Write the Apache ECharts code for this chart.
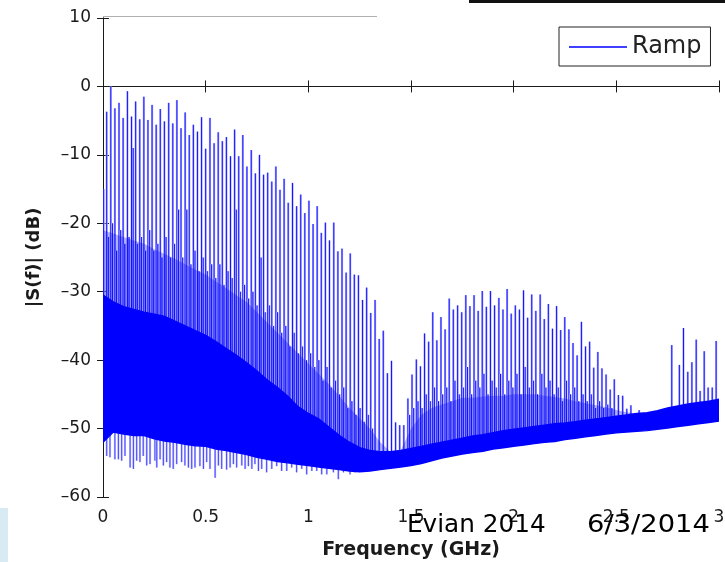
<!DOCTYPE html>
<html>
<head>
<meta charset="utf-8">
<script src="https://cdn.jsdelivr.net/npm/echarts/dist/echarts.min.js"></script>
<style>
  html, body { margin: 0; padding: 0; background: #fff; }
  #chart { width: 725px; height: 562px; }
</style>
</head>
<body>
<div id="chart"></div>
<script>
(function () {
  'use strict';

  // comb peaks of the ramp spectrum: [GHz, dB]
  var rampPeaks = [
    [0.003, -15.0],
    [0.018, -3.7], [0.038, 0.0], [0.058, -3.2], [0.078, -2.4], [0.098, -4.6],
    [0.119, -0.7], [0.139, -4.4], [0.159, -2.2], [0.179, -4.8], [0.199, -1.5],
    [0.219, -4.9], [0.239, -2.7], [0.259, -5.6], [0.279, -3.3], [0.299, -5.1],
    [0.320, -2.4], [0.340, -5.4], [0.360, -2.0], [0.380, -6.1], [0.400, -3.8],
    [0.420, -7.1], [0.440, -5.6], [0.460, -6.6], [0.480, -4.5], [0.500, -9.1],
    [0.521, -4.6], [0.541, -8.3], [0.561, -6.7], [0.581, -8.0], [0.601, -7.4],
    [0.621, -10.2], [0.641, -6.3], [0.661, -10.2], [0.681, -7.1], [0.701, -11.7],
    [0.722, -9.3], [0.742, -12.7], [0.762, -10.0], [0.782, -12.9], [0.802, -12.6],
    [0.822, -13.9], [0.842, -11.7], [0.862, -15.1], [0.882, -13.5], [0.902, -17.0],
    [0.923, -14.1], [0.943, -17.5], [0.963, -15.8], [0.983, -18.5], [1.003, -16.7],
    [1.023, -20.1], [1.043, -17.5], [1.063, -21.4], [1.083, -19.9], [1.103, -22.5],
    [1.124, -19.9], [1.144, -24.1], [1.164, -23.7], [1.184, -27.2], [1.204, -24.4],
    [1.224, -27.5], [1.244, -27.6], [1.264, -31.2], [1.284, -29.4], [1.304, -33.1],
    [1.325, -31.2], [1.345, -36.9], [1.365, -35.7], [1.385, -41.9], [1.405, -40.1],
    [1.425, -49.1], [1.445, -49.5], [1.465, -49.5], [1.485, -45.6], [1.505, -42.1],
    [1.526, -39.9], [1.546, -40.9], [1.566, -36.1], [1.586, -37.3], [1.606, -33.0],
    [1.626, -37.1], [1.646, -33.7], [1.666, -35.5], [1.686, -31.0], [1.706, -32.6],
    [1.727, -32.0], [1.747, -33.0], [1.767, -30.5], [1.787, -32.1], [1.807, -30.5],
    [1.827, -32.8], [1.847, -29.9], [1.867, -32.2], [1.887, -29.9], [1.907, -32.0],
    [1.928, -30.9], [1.948, -32.6], [1.968, -29.6], [1.988, -33.2], [2.008, -32.0],
    [2.028, -32.6], [2.048, -29.8], [2.068, -33.8], [2.088, -30.4], [2.108, -32.8],
    [2.129, -30.4], [2.149, -34.0], [2.169, -31.8], [2.189, -35.4], [2.209, -32.1],
    [2.229, -35.6], [2.249, -33.7], [2.269, -35.5], [2.289, -37.5], [2.309, -39.3],
    [2.330, -34.4], [2.350, -38.0], [2.370, -37.3], [2.390, -41.1], [2.410, -38.8],
    [2.430, -41.2], [2.450, -42.1], [2.470, -44.3], [2.490, -42.8], [2.510, -45.1],
    [2.531, -45.2], [2.551, -47.1], [2.571, -46.6], [2.611, -47.3],
    [2.770, -37.8], [2.807, -40.7], [2.827, -35.3], [2.848, -41.7], [2.868, -40.3],
    [2.889, -37.0], [2.908, -44.5], [2.928, -38.7], [2.947, -44.0], [2.967, -44.0],
    [2.986, -37.2]
  ];

  // weaker lines next to each comb line
  var rampSide = [
    [0.026, -22], [0.046, -20], [0.066, -24], [0.086, -21], [0.106, -23],
    [0.127, -22], [0.147, -9], [0.167, -23], [0.187, -22], [0.207, -24],
    [0.227, -21], [0.247, -24], [0.267, -23], [0.287, -25], [0.307, -22],
    [0.328, -25], [0.348, -23], [0.368, -18], [0.388, -25], [0.408, -18],
    [0.428, -26], [0.448, -24], [0.468, -27], [0.488, -25], [0.508, -27],
    [0.529, -26], [0.549, -28], [0.569, -26], [0.589, -29], [0.609, -27],
    [0.629, -28], [0.649, -18], [0.669, -30], [0.689, -29], [0.709, -31],
    [0.730, -30], [0.750, -32], [0.770, -25], [0.790, -33], [0.810, -32],
    [0.830, -35], [0.850, -33], [0.870, -36], [0.890, -35], [0.910, -38],
    [0.931, -36], [0.951, -39], [0.971, -38], [0.991, -40], [1.011, -39],
    [1.031, -41], [1.051, -40], [1.071, -43], [1.091, -41], [1.111, -44],
    [1.132, -43], [1.152, -45], [1.172, -44], [1.192, -47], [1.212, -46],
    [1.232, -48], [1.252, -47], [1.272, -49], [1.292, -48], [1.312, -50],
    [1.493, -48], [1.513, -47], [1.534, -46], [1.554, -47], [1.574, -45],
    [1.594, -46], [1.614, -44], [1.634, -46], [1.654, -45], [1.674, -44],
    [1.694, -46], [1.714, -43], [1.735, -45], [1.755, -44], [1.775, -41],
    [1.795, -45], [1.815, -43], [1.835, -44], [1.855, -42], [1.875, -45],
    [1.895, -43], [1.915, -44], [1.936, -42], [1.956, -45], [1.976, -43],
    [1.996, -44], [2.016, -42], [2.036, -45], [2.056, -41], [2.076, -44],
    [2.096, -43], [2.116, -45], [2.137, -42], [2.157, -44], [2.177, -43],
    [2.197, -45], [2.217, -44], [2.237, -46], [2.257, -43], [2.277, -45],
    [2.297, -44], [2.317, -46], [2.338, -45], [2.358, -46], [2.378, -45],
    [2.398, -47], [2.418, -46], [2.438, -47], [2.458, -46.5], [2.478, -47]
  ];

  // downward noise lines under the floor
  var rampDips = [
    [0.018, -54.0], [0.034, -54.2], [0.058, -54.5], [0.075, -54.5], [0.091, -54.7],
    [0.107, -54.0], [0.132, -55.7], [0.148, -55.9], [0.164, -54.7], [0.180, -54.9],
    [0.196, -54.0], [0.213, -55.4], [0.229, -55.2], [0.253, -54.7], [0.262, -55.7],
    [0.278, -54.5], [0.294, -55.4], [0.310, -54.9], [0.326, -55.7], [0.342, -55.9],
    [0.359, -55.2], [0.383, -54.9], [0.399, -55.4], [0.416, -55.7], [0.432, -55.9],
    [0.448, -55.7], [0.472, -55.5], [0.489, -55.9], [0.505, -54.9], [0.521, -55.9],
    [0.546, -57.2], [0.562, -55.4], [0.578, -55.9], [0.602, -56.0], [0.619, -55.7],
    [0.635, -55.2], [0.651, -55.7], [0.676, -55.4], [0.692, -55.9], [0.708, -55.5],
    [0.725, -55.9], [0.740, -55.2], [0.757, -56.2], [0.773, -55.9], [0.797, -56.4],
    [0.822, -55.9], [0.846, -55.5], [0.870, -56.2], [0.895, -56.2], [0.919, -55.7],
    [0.943, -56.4], [0.968, -55.9], [0.992, -56.7], [1.017, -56.2], [1.041, -56.2],
    [1.065, -56.7], [1.090, -56.7], [1.122, -56.4], [1.146, -57.4], [1.171, -56.4],
    [1.203, -56.7], [1.227, -56.4]
  ];

  // noise floor band (solid) and the lighter haze above it
  var bandFreq = [
    0.00, 0.05, 0.10, 0.15, 0.20, 0.25, 0.30, 0.35, 0.40, 0.45,
    0.50, 0.55, 0.60, 0.65, 0.70, 0.75, 0.80, 0.85, 0.90, 0.95,
    1.00, 1.05, 1.10, 1.15, 1.20, 1.25, 1.30, 1.35, 1.40, 1.45,
    1.50, 1.55, 1.60, 1.65, 1.70, 1.75, 1.80, 1.85, 1.90, 1.95,
    2.00, 2.05, 2.10, 2.15, 2.20, 2.25, 2.30, 2.35, 2.40, 2.45,
    2.50, 2.55, 2.60, 2.65, 2.70, 2.75, 2.80, 2.85, 2.90, 2.95,
    3.00
  ];
  var bandTop = [
    -30.5, -31.5, -32.2, -32.6, -33.0, -33.3, -33.6, -34.3, -35.0, -35.7,
    -36.4, -37.3, -38.3, -39.3, -40.4, -41.6, -42.9, -44.0, -45.3, -46.8,
    -47.8, -48.6, -49.8, -51.0, -52.0, -52.8, -53.2, -53.4, -53.4, -53.2,
    -52.9, -52.6, -52.3, -52.0, -51.7, -51.4, -51.1, -50.9, -50.6, -50.3,
    -50.1, -49.9, -49.7, -49.5, -49.3, -49.2, -49.0, -48.8, -48.6, -48.4,
    -48.2, -48.0, -47.8, -47.7, -47.4, -47.0, -46.7, -46.4, -46.2, -46.0,
    -45.7
  ];
  var bandBottom = [
    -52.0, -50.5, -50.8, -51.0, -51.0, -51.5, -51.8, -52.0, -52.3, -52.5,
    -52.6, -53.0, -53.2, -53.5, -53.8, -54.2, -54.5, -54.8, -55.0, -55.2,
    -55.4, -55.6, -55.8, -56.0, -56.2, -56.3, -56.2, -56.0, -55.8, -55.6,
    -55.4, -55.1, -54.7, -54.3, -54.0, -53.7, -53.5, -53.3, -53.0, -52.8,
    -52.6, -52.4, -52.2, -52.0, -51.9, -51.6, -51.4, -51.2, -51.0, -50.8,
    -50.6, -50.5, -50.4, -50.3, -50.1, -49.9, -49.7, -49.5, -49.3, -49.1,
    -48.9
  ];
  var hazeTop = [
    -21.0, -21.5, -22.0, -22.5, -23.0, -23.8, -24.5, -25.2, -26.0, -26.8,
    -27.5, -28.5, -29.5, -30.5, -31.5, -33.0, -34.5, -36.0, -37.5, -39.0,
    -40.5, -42.0, -43.5, -45.2, -47.0, -48.5, -50.0, -52.0, -53.4, -53.2,
    -50.0, -48.0, -47.0, -46.5, -46.0, -45.5, -45.5, -45.3, -45.2, -45.2,
    -45.0, -45.0, -45.0, -45.2, -45.4, -45.6, -46.0, -46.3, -46.6, -46.9,
    -47.3, -47.6, -47.8, -47.7, -47.4, -47.0, -46.7, -46.4, -46.2, -46.0,
    -45.7
  ];

  var BLUE = '#0000ff';
  var HALO = '#b4b4ff';
  var HAZE = 'rgba(0, 0, 255, 0.3)';
  var FONT = 'DejaVu Sans';

  // nearest band sample, used to hang the spikes on the floor
  function nearestBand(f) {
    var best = 0;
    for (var i = 1; i < bandFreq.length; i++) {
      if (Math.abs(bandFreq[i] - f) < Math.abs(bandFreq[best] - f)) best = i;
    }
    return best;
  }

  function spikeItem(down, opacity) {
    return function (params, api) {
      var f = api.value(0);
      var k = nearestBand(f);
      var base = down ? bandBottom[k] + 1 : bandTop[k] - 1;
      var a = api.coord([f, api.value(1)]);
      var b = api.coord([f, base]);
      var shape = { x1: a[0], y1: a[1], x2: b[0], y2: b[1] };
      return {
        type: 'group',
        children: [
          { type: 'line', shape: shape, style: { stroke: HALO, lineWidth: 2.2, opacity: opacity } },
          { type: 'line', shape: shape, style: { stroke: BLUE, lineWidth: 0.9, opacity: opacity } }
        ]
      };
    };
  }

  // floor band and haze, each as one polygon (upper edge forward, lower edge back)
  function bandItem(params, api) {
    if (params.dataIndexInside !== 0) return null;
    var n = params.dataInsideLength;
    function outline(upDim, lowDim) {
      var pts = [];
      for (var i = 0; i < n; i++) pts.push(api.coord([api.value(0, i), api.value(upDim, i)]));
      for (var j = n - 1; j >= 0; j--) pts.push(api.coord([api.value(0, j), api.value(lowDim, j)]));
      return pts;
    }
    return {
      type: 'group',
      children: [
        { type: 'polygon', shape: { points: outline(3, 2) }, style: { fill: HAZE } },
        { type: 'polygon', shape: { points: outline(2, 1) }, style: { fill: BLUE, stroke: BLUE, lineWidth: 1.5 } }
      ]
    };
  }

  function minus(v) {
    return String(v).replace('-', '\u2013');
  }

  var axisText = { fontFamily: FONT, fontSize: 17, color: '#1a1a1a' };
  var lineDark = { lineStyle: { color: '#1a1a1a', width: 1 } };
  var tickIn = { show: true, inside: true, length: 6, lineStyle: { color: '#1a1a1a' } };

  var myChart = echarts.init(document.getElementById('chart'));

  var option = {
    animation: false,
    backgroundColor: '#fff',
    grid: { left: 103, right: 6, top: 18, bottom: 65, containLabel: false, outerBoundsMode: 'none' },
    legend: {
      data: ['Ramp'],
      left: 559,
      top: 27,
      padding: [8, 9, 7, 10],
      icon: 'rect',
      itemWidth: 58,
      itemHeight: 1.5,
      backgroundColor: '#fff',
      borderColor: '#222',
      borderWidth: 1,
      textStyle: { fontFamily: FONT, fontSize: 24, color: '#222' }
    },
    xAxis: [{
      type: 'value',
      min: 0, max: 3, interval: 0.5,
      name: 'Frequency (GHz)',
      nameLocation: 'middle',
      nameGap: 44,
      nameTextStyle: { fontFamily: FONT, fontSize: 19, fontWeight: 'bold', color: '#1a1a1a' },
      axisLine: lineDark,
      axisTick: tickIn,
      axisLabel: Object.assign({ margin: 12, showMaxLabel: true }, axisText),
      splitLine: { show: false }
    }, {
      type: 'value',
      position: 'top',
      min: 0, max: 3, interval: 0.5,
      axisLine: lineDark,
      axisTick: tickIn,
      axisLabel: { show: false },
      splitLine: { show: false }
    }],
    yAxis: [{
      type: 'value',
      min: -60, max: 10, interval: 10,
      name: '|S(f)| (dB)',
      nameLocation: 'middle',
      nameGap: 60,
      nameTextStyle: { fontFamily: FONT, fontSize: 18, fontWeight: 'bold', color: '#1a1a1a' },
      axisLine: Object.assign({ show: true }, lineDark),
      axisTick: tickIn,
      axisLabel: Object.assign({ margin: 12, formatter: minus }, axisText),
      splitLine: { show: false }
    }, {
      type: 'value',
      position: 'right',
      min: -60, max: 10, interval: 10,
      axisLine: Object.assign({ show: true }, lineDark),
      axisTick: tickIn,
      axisLabel: { show: false },
      splitLine: { show: false }
    }],
    series: [{
      name: 'Ramp',
      type: 'custom',
      renderItem: spikeItem(false, 1),
      itemStyle: { color: BLUE },
      encode: { x: 0, y: 1 },
      clip: true,
      data: rampPeaks,
      z: 3
    }, {
      name: 'side',
      type: 'custom',
      renderItem: spikeItem(false, 1),
      encode: { x: 0, y: 1 },
      clip: true,
      data: rampSide,
      z: 3
    }, {
      name: 'dips',
      type: 'custom',
      renderItem: spikeItem(true, 0.75),
      encode: { x: 0, y: 1 },
      clip: true,
      data: rampDips,
      z: 3
    }, {
      name: 'floor',
      type: 'custom',
      renderItem: bandItem,
      encode: { x: 0, y: [1, 2, 3] },
      clip: true,
      silent: true,
      data: bandFreq.map(function (f, i) { return [f, bandBottom[i], bandTop[i], hazeTop[i]]; }),
      z: 4
    }],
    graphic: [
      { type: 'rect', shape: { x: 469, y: 0, width: 256, height: 3 }, style: { fill: '#111' }, z: 10 },
      { type: 'line', shape: { x1: 103, y1: 16.5, x2: 377, y2: 16.5 }, style: { stroke: '#b0b0b0', lineWidth: 1 }, z: 10 },
      { type: 'rect', shape: { x: 0, y: 508, width: 8, height: 54 }, style: { fill: '#d8eaf2' }, z: 10 },
      { type: 'text', x: 407, y: 526, scaleX: 1.03, style: { text: 'Evian 2014', font: '24px "DejaVu Sans"', fill: '#000', textVerticalAlign: 'middle' }, z: 10 },
      { type: 'text', x: 587, y: 526, scaleX: 1.14, style: { text: '6/3/2014', font: '24px "DejaVu Sans"', fill: '#000', textVerticalAlign: 'middle' }, z: 10 }
    ]
  };

  myChart.setOption(option);
}());
</script>
</body>
</html>
